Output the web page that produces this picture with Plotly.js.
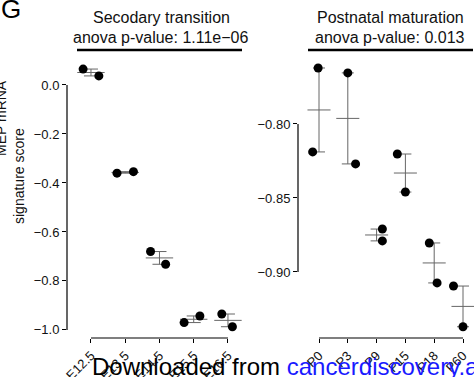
<!DOCTYPE html>
<html>
<head>
<meta charset="utf-8">
<script src="https://cdn.plot.ly/plotly-3.0.1.min.js"></script>
<style>html,body{margin:0;padding:0;background:#fff;}#chart{width:474px;height:377px;}</style>
</head>
<body>
<div id="chart"></div>
<script>
// ---- data ----
const stagesA = ['E12.5', 'E13.5', 'E14.5', 'E15.5', 'E16.5'];
const scoreA1 = [0.065, -0.360, -0.680, -0.970, -0.935];
const scoreA2 = [0.037, -0.354, -0.732, -0.943, -0.987];
const stagesB = ['P0', 'P3', 'P9', 'P15', 'P18', 'P60'];
const scoreB1 = [-0.7622, -0.7655, -0.8710, -0.8203, -0.8804, -0.9095];
const scoreB2 = [-0.8189, -0.8270, -0.8790, -0.8460, -0.9074, -0.9370];
const ticksA = [0.0, -0.2, -0.4, -0.6, -0.8, -1.0];
const ticksB = [-0.80, -0.85, -0.90];
const titleA = ['Secodary transition', 'anova p-value: 1.11e\u221206'];
const titleB = ['Postnatal maturation', 'anova p-value: 0.013'];

// ---- styling (horizontal jitter of replicate points) ----
const jitA1 = [-0.23, -0.24, -0.26, -0.28, -0.18];
const jitA2 = [0.23, 0.24, 0.18, 0.18, 0.13];
const jitB1 = [-0.03, 0.0, 0.20, -0.28, -0.17, -0.33];
const jitB2 = [-0.22, 0.27, 0.20, 0.0, 0.10, 0.0];

const W = 474, H = 377;
const px = v => v / W, py = v => 1 - v / H;
const FONT = 'Liberation Sans, Arial, Helvetica, sans-serif';
const GREY = '#666';

function panel(stages, s1, s2, j1, j2, xa, ya, capW) {
  const idx = stages.map((_, i) => i);
  const mean = idx.map(i => (s1[i] + s2[i]) / 2);
  const se = idx.map(i => Math.abs(s1[i] - s2[i]) / 2);
  const mx = [], my = [];
  idx.forEach(i => { mx.push(i - 0.4, i + 0.4, null); my.push(mean[i], mean[i], null); });
  return [
    {x: idx, y: mean, xaxis: xa, yaxis: ya, type: 'scatter', mode: 'markers',
     marker: {size: 1, color: 'rgba(0,0,0,0)'}, hoverinfo: 'skip',
     error_y: {type: 'data', array: se, visible: true, color: GREY, thickness: 1, width: capW}},
    {x: mx, y: my, xaxis: xa, yaxis: ya, type: 'scatter', mode: 'lines',
     line: {color: GREY, width: 1}, hoverinfo: 'skip'},
    {x: idx.map(i => i + j1[i]).concat(idx.map(i => i + j2[i])),
     y: s1.concat(s2), xaxis: xa, yaxis: ya, type: 'scatter', mode: 'markers',
     marker: {size: 9, color: '#000'}}
  ];
}

const data = [].concat(
  panel(stagesA, scoreA1, scoreA2, jitA1, jitA2, 'x', 'y', 7),
  panel(stagesB, scoreB1, scoreB2, jitB1, jitB2, 'x2', 'y2', 6)
);

const yDom = [py(338), py(60)];
const common = {showgrid: false, zeroline: false, showline: false, ticks: 'outside',
  ticklen: 4, tickwidth: 1, tickcolor: '#000', tickfont: {family: FONT, size: 13, color: '#111'}};

const layout = {
  width: W, height: H, margin: {l: 0, r: 0, t: 0, b: 0},
  paper_bgcolor: '#fff', plot_bgcolor: '#fff', showlegend: false,
  font: {family: FONT},
  xaxis: Object.assign({}, common, {domain: [px(67), px(242)], range: [-0.70, 4.41],
    tickmode: 'array', tickvals: stagesA.map((_, i) => i), ticktext: stagesA, tickangle: -45, anchor: 'y'}),
  yaxis: Object.assign({}, common, {domain: yDom, range: [-1.033, 0.102],
    tickmode: 'array', tickvals: ticksA, tickformat: '.1f', anchor: 'x'}),
  xaxis2: Object.assign({}, common, {domain: [px(298), 1], range: [-0.729, 5.382],
    tickmode: 'array', tickvals: stagesB.map((_, i) => i), ticktext: stagesB, tickangle: -45, anchor: 'y2'}),
  yaxis2: Object.assign({}, common, {domain: yDom, range: [-0.9446, -0.7568],
    tickmode: 'array', tickvals: ticksB, tickformat: '.2f', anchor: 'x2'}),
  shapes: [
    {type: 'line', xref: 'paper', yref: 'y', x0: px(67), x1: px(67),
     y0: Math.min(...ticksA), y1: Math.max(...ticksA), line: {color: '#000', width: 1.2}},
    {type: 'line', xref: 'x', yref: 'paper', x0: 0, x1: stagesA.length - 1,
     y0: py(338), y1: py(338), line: {color: '#000', width: 1.2}},
    {type: 'line', xref: 'paper', yref: 'y2', x0: px(298), x1: px(298),
     y0: Math.min(...ticksB), y1: Math.max(...ticksB), line: {color: '#000', width: 1.2}},
    {type: 'line', xref: 'x2', yref: 'paper', x0: 0, x1: stagesB.length - 1,
     y0: py(338), y1: py(338), line: {color: '#000', width: 1.2}},
    {type: 'line', xref: 'paper', yref: 'paper', x0: px(77), x1: px(242),
     y0: py(50), y1: py(50), line: {color: '#000', width: 2.5}},
    {type: 'line', xref: 'paper', yref: 'paper', x0: px(308), x1: px(473),
     y0: py(50), y1: py(50), line: {color: '#000', width: 2.5}}
  ],
  annotations: [
    {text: titleA[0], x: px(161), y: py(18), xref: 'paper', yref: 'paper', showarrow: false,
     xanchor: 'center', yanchor: 'middle', font: {size: 16, color: '#111', family: FONT}},
    {text: titleA[1], x: px(161), y: py(37), xref: 'paper', yref: 'paper', showarrow: false,
     xanchor: 'center', yanchor: 'middle', font: {size: 16, color: '#111', family: FONT}},
    {text: titleB[0], x: px(390), y: py(18), xref: 'paper', yref: 'paper', showarrow: false,
     xanchor: 'center', yanchor: 'middle', font: {size: 16, color: '#111', family: FONT}},
    {text: titleB[1], x: px(390), y: py(37), xref: 'paper', yref: 'paper', showarrow: false,
     xanchor: 'center', yanchor: 'middle', font: {size: 16, color: '#111', family: FONT}},
    {text: 'MEP mRNA', x: px(1), y: py(118), xref: 'paper', yref: 'paper', showarrow: false,
     textangle: -90, xanchor: 'center', yanchor: 'middle', font: {size: 14, color: '#111', family: FONT}},
    {text: 'signature score', x: px(19), y: py(176), xref: 'paper', yref: 'paper', showarrow: false,
     textangle: -90, xanchor: 'center', yanchor: 'middle', font: {size: 14, color: '#111', family: FONT}},
    {text: 'G', x: px(-1), y: py(9), xref: 'paper', yref: 'paper', showarrow: false,
     xanchor: 'left', yanchor: 'middle', font: {size: 26, color: '#000', family: FONT}},
    {text: 'Downloaded from <span style="color:#1a1aff">cancerdiscovery.aacrjournals.org</span>',
     x: px(90), y: py(366), xref: 'paper', yref: 'paper', showarrow: false,
     xanchor: 'left', yanchor: 'middle', font: {size: 24, color: '#000', family: FONT}}
  ]
};

Plotly.newPlot('chart', data, layout, {staticPlot: true, displayModeBar: false});
</script>
</body>
</html>
